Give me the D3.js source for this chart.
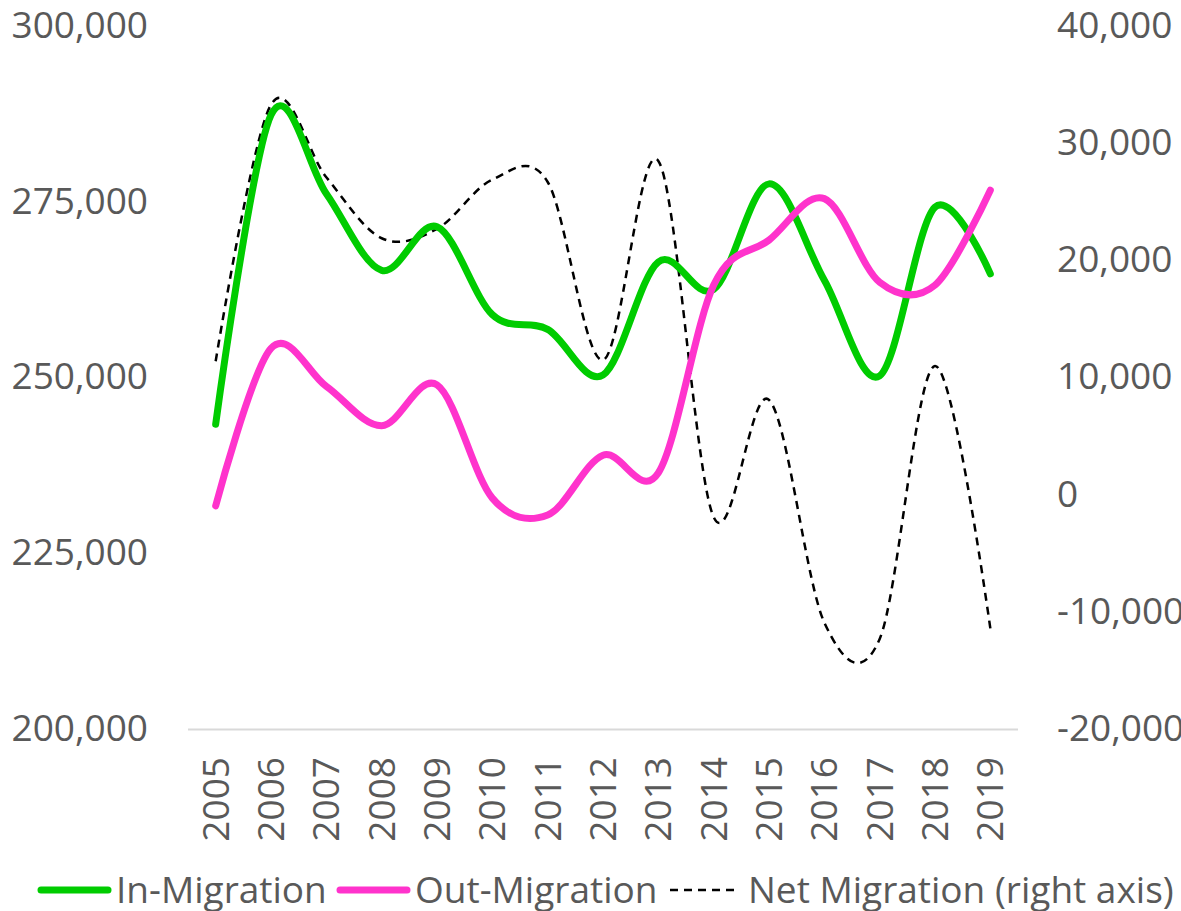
<!DOCTYPE html>
<html>
<head>
<meta charset="utf-8">
<script src="https://cdn.jsdelivr.net/npm/d3@7"></script>
<style>
  body { margin: 0; background: #fff; }
  text { font-family: "Open Sans", sans-serif; fill: #595959; }
</style>
</head>
<body>
<svg id="chart" width="1181" height="911"></svg>
<script>
const years = ["2005", "2006", "2007", "2008", "2009", "2010", "2011", "2012",
  "2013", "2014", "2015", "2016", "2017", "2018", "2019"];
const inMigration = [243200, 287200, 276000, 265100, 271300, 258800, 256700, 250200,
  266300, 262400, 277400, 263700, 250100, 274100, 264600];
const outMigration = [231600, 254000, 248600, 243000, 248800, 232700, 230300, 238800,
  236300, 263000, 269400, 275300, 263400, 263000, 276500];
const netMigration = [11300, 33200, 27000, 21800, 22600, 26800, 26600, 11400,
  28400, -2000, 8000, -11000, -12400, 10900, -11500];
const leftTicks = [200000, 225000, 250000, 275000, 300000];
const rightTicks = [-20000, -10000, 0, 10000, 20000, 30000, 40000];

const svg = d3.select("#chart");
const fmt = d => d3.format(",")(d).replace("\u2212", "-");

const x = d3.scaleBand().domain(years).range([188, 1018]);
const cx = d => x(d) + x.bandwidth() / 2;
const yLeft = d3.scaleLinear().domain([200000, 300000]).range([728, 25]);
const yRight = d3.scaleLinear().domain([-20000, 40000]).range([728, 25]);

// left axis labels
svg.append("g").selectAll("text")
  .data(leftTicks).join("text")
  .attr("x", 148)
  .attr("y", d => yLeft(d))
  .attr("dy", "0.35em")
  .attr("text-anchor", "end")
  .attr("font-size", 37)
  .text(d => fmt(d));

// right axis labels
svg.append("g").selectAll("text")
  .data(rightTicks).join("text")
  .attr("x", 1057)
  .attr("y", d => yRight(d))
  .attr("dy", "0.35em")
  .attr("text-anchor", "start")
  .attr("font-size", 37)
  .text(d => fmt(d));

// baseline
svg.append("line")
  .attr("x1", 188).attr("x2", 1018)
  .attr("y1", 729.5).attr("y2", 729.5)
  .attr("stroke", "#d9d9d9")
  .attr("stroke-width", 2);

// year labels
svg.append("g").selectAll("text")
  .data(years).join("text")
  .attr("transform", d => "translate(" + cx(d) + ",757) rotate(-90)")
  .attr("dy", "0.35em")
  .attr("text-anchor", "end")
  .attr("font-size", 37)
  .text(d => d);

const curve = d3.curveCatmullRom.alpha(0);

const lineLeft = d3.line()
  .x((d, i) => cx(years[i]))
  .y(d => yLeft(d))
  .curve(curve);
const lineRight = d3.line()
  .x((d, i) => cx(years[i]))
  .y(d => yRight(d))
  .curve(curve);

svg.append("path")
  .attr("d", lineRight(netMigration))
  .attr("fill", "none")
  .attr("stroke", "#000")
  .attr("stroke-width", 2.5)
  .attr("stroke-dasharray", "8,6");

svg.append("path")
  .attr("d", lineLeft(inMigration))
  .attr("fill", "none")
  .attr("stroke", "#00cc00")
  .attr("stroke-width", 7)
  .attr("stroke-linecap", "round");

svg.append("path")
  .attr("d", lineLeft(outMigration))
  .attr("fill", "none")
  .attr("stroke", "#ff33cc")
  .attr("stroke-width", 7)
  .attr("stroke-linecap", "round");

// legend
const legendItems = [
  {label: "In-Migration", color: "#00cc00", width: 7, dash: null, x1: 41, x2: 108, tx: 116},
  {label: "Out-Migration", color: "#ff33cc", width: 7, dash: null, x1: 340, x2: 407, tx: 415},
  {label: "Net Migration (right axis)", color: "#000", width: 2.5, dash: "8,6", x1: 670, x2: 738, tx: 748}
];
const legend = svg.append("g");
legendItems.forEach(item => {
  legend.append("line")
    .attr("x1", item.x1).attr("x2", item.x2)
    .attr("y1", 890).attr("y2", 890)
    .attr("stroke", item.color)
    .attr("stroke-width", item.width)
    .attr("stroke-linecap", item.dash ? "butt" : "round")
    .attr("stroke-dasharray", item.dash);
  legend.append("text")
    .attr("x", item.tx)
    .attr("y", 890)
    .attr("dy", "0.35em")
    .attr("font-size", 37)
    .text(item.label);
});
</script>
</body>
</html>
